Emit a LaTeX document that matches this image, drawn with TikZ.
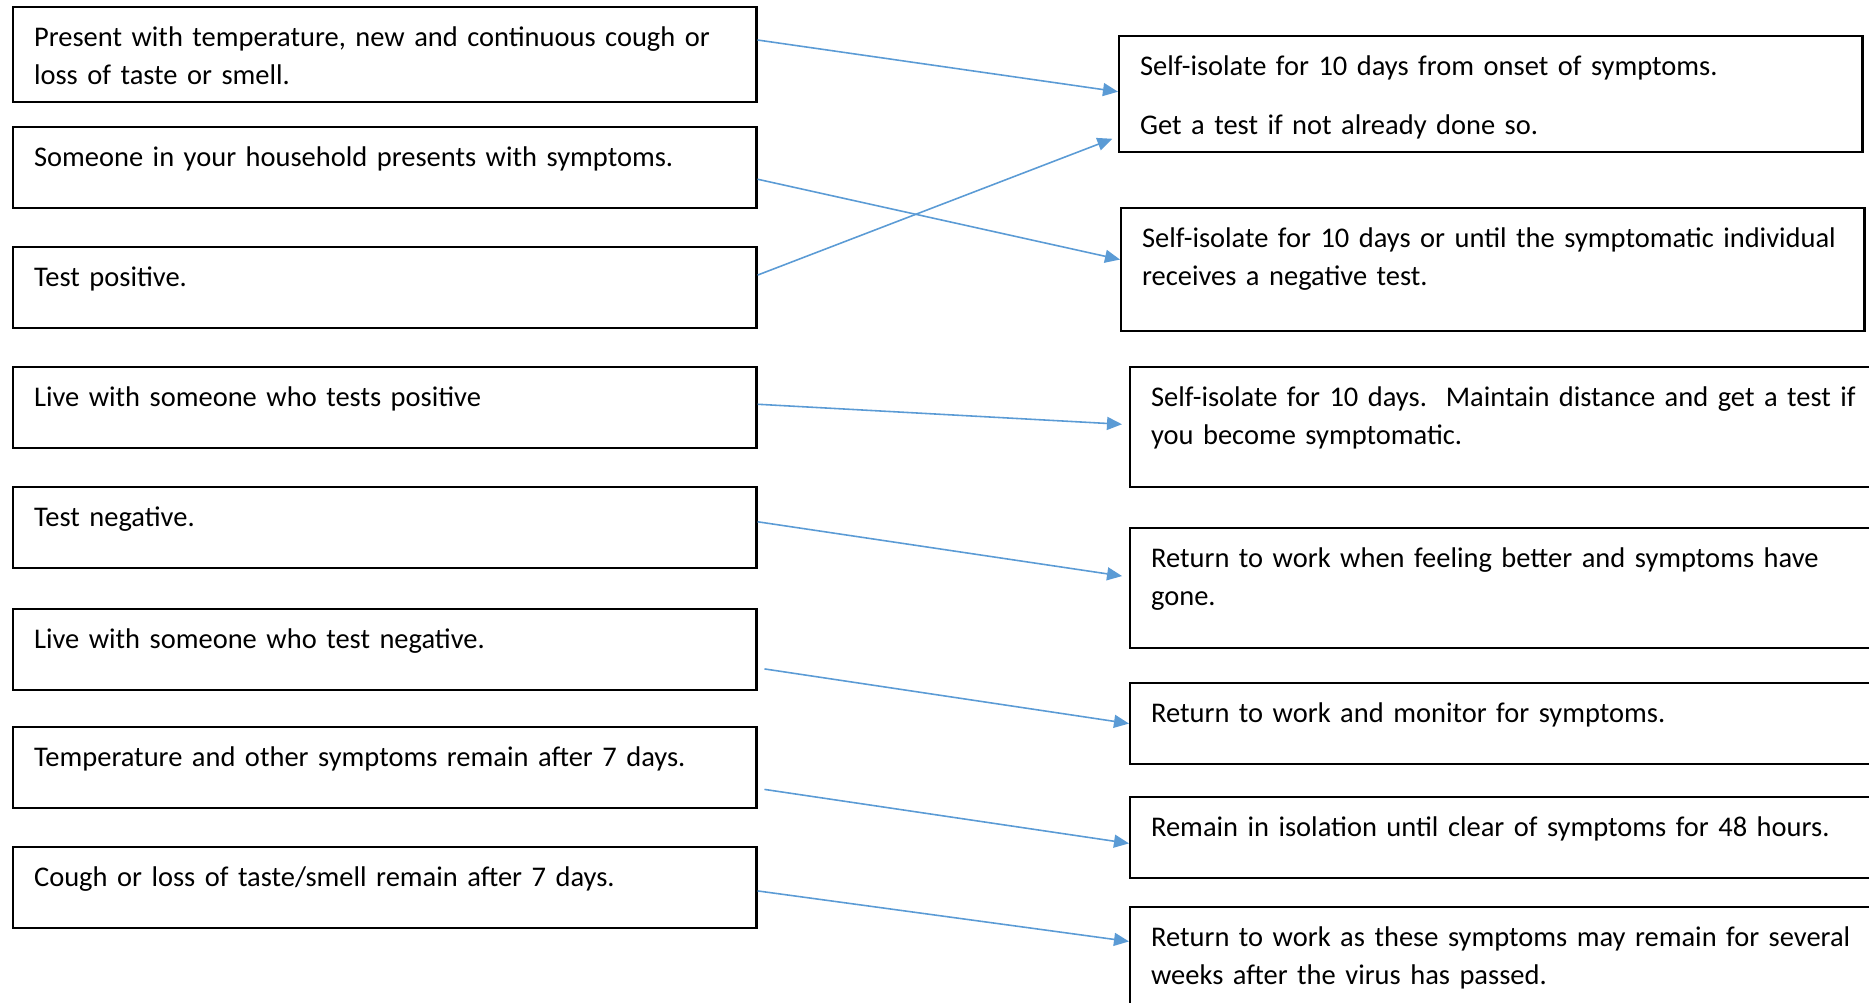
\documentclass[tikz,border=0pt]{standalone}
\usepackage{fontspec}
\setmainfont{Carlito}
\usetikzlibrary{arrows.meta,calc}
\definecolor{linkblue}{RGB}{91,155,213}

\begin{document}
\begin{tikzpicture}[x=0.01cm, y=-0.01cm,
	sbox/.style={draw=black, line width=0.6pt, anchor=north west, inner xsep=0.21cm, inner ysep=0pt,
		text width=7.01cm, align=left, text height=0.39cm, text depth=#1,
		font=\fontsize{8.1}{10.8}\selectfont},
	sbox/.default=0.42cm,
	link/.style={color=linkblue, line width=0.45pt, -{Triangle[length=0.15cm, width=0.13cm]}}]

	\useasboundingbox (0,0) rectangle (1869,1003);
	\clip (0,0) rectangle (1869,1003);

	\node[sbox=0.56cm] (fever)      at (12, 6)   {Present with temperature, new and continuous cough or\\loss of taste or smell.};
	\node[sbox]         (household) at (12, 126) {Someone in your household presents with symptoms.};
	\node[sbox]         (pos)       at (12, 246) {Test positive.};
	\node[sbox]         (livepos)   at (12, 366) {Live with someone who tests positive};
	\node[sbox]         (neg)       at (12, 486) {Test negative.};
	\node[sbox]         (liveneg)   at (12, 608) {Live with someone who test negative.};
	\node[sbox]         (temp)      at (12, 726) {Temperature and other symptoms remain after 7 days.};
	\node[sbox]         (cough)     at (12, 846) {Cough or loss of taste/smell remain after 7 days.};

	\node[sbox=0.77cm]  (iso)       at (1118, 35)  {Self-isolate for 10 days from onset of symptoms.\\[6.2pt]Get a test if not already done so.};
	\node[sbox=0.84cm]  (isohh)     at (1120, 207) {Self-isolate for 10 days or until the symptomatic individual\\receives a negative test.};
	\node[sbox=0.81cm]  (isolive)   at (1129, 366) {\mbox{Self-isolate for 10 days.\ \ Maintain distance and get a test if}\\you become symptomatic.};
	\node[sbox=0.81cm]  (back)      at (1129, 527) {Return to work when feeling better and symptoms have\\gone.};
	\node[sbox]         (monitor)   at (1129, 682) {Return to work and monitor for symptoms.};
	\node[sbox]         (remain)    at (1129, 796) {Remain in isolation until clear of symptoms for 48 hours.};
	\node[sbox=0.81cm]  (backcough) at (1129, 906) {Return to work as these symptoms may remain for several\\weeks after the virus has passed.};

	\path[link] ($(fever.north east)!0.35!(fever.south east)$) edge ($(iso.north west)!0.48!(iso.south west)$);
	\path[link] ($(household.north east)!0.64!(household.south east)$) edge ($(isohh.north west)!0.42!(isohh.south west)$);
	\path[link, shorten >=0.06cm] ($(pos.north east)!0.35!(pos.south east)$) edge ($(iso.north west)!0.86!(iso.south west)$);
	\path[link, shorten >=0.07cm] ($(livepos.north east)!0.46!(livepos.south east)$) edge ($(isolive.north west)!0.48!(isolive.south west)$);
	\path[link, shorten >=0.07cm] ($(neg.north east)!0.43!(neg.south east)$) edge ($(back.north west)!0.41!(back.south west)$);
	\path[link, shorten <=0.07cm] ($(liveneg.north east)!0.72!(liveneg.south east)$) edge ($(monitor.north west)!0.5!(monitor.south west)$);
	\path[link, shorten <=0.07cm] ($(temp.north east)!0.75!(temp.south east)$) edge ($(remain.north west)!0.57!(remain.south west)$);
	\path[link] ($(cough.north east)!0.54!(cough.south east)$) edge ($(backcough.north west)!0.29!(backcough.south west)$);

\end{tikzpicture}
\end{document}
